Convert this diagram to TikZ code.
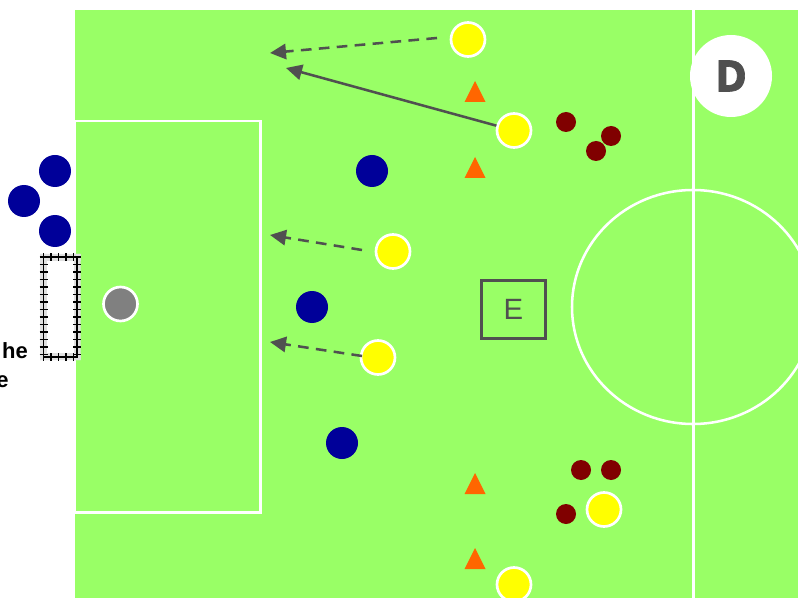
\documentclass[tikz,border=0pt]{standalone}
\usepackage{fontspec}
\setmainfont{Liberation Sans}
\newfontfamily\heavy[BoldFeatures={FakeBold=1.5,FakeStretch=0.88}]{DejaVu Sans}
\usetikzlibrary{arrows.meta}
\definecolor{pitch}{HTML}{99FF66}
\definecolor{ink}{HTML}{505050}
\definecolor{navy1}{HTML}{000099}
\definecolor{maroon1}{HTML}{800000}
\definecolor{cone}{HTML}{FF6600}
\definecolor{yel}{HTML}{FFFF00}
\tikzset{
  x=0.75pt,y=-0.75pt,
  pitchline/.style={draw=white,line width=1.9pt},
  yplayer/.style={circle,fill=yel,draw=white,line width=2pt,minimum size=25.5pt,inner sep=0pt},
  gplayer/.style={circle,fill=gray,draw=white,line width=2pt,minimum size=25.5pt,inner sep=0pt},
  bplayer/.style={circle,fill=navy1,minimum size=24pt,inner sep=0pt},
  mplayer/.style={circle,fill=maroon1,minimum size=15pt,inner sep=0pt},
  conemark/.style={fill=cone},
  mover/.style={draw=ink,line width=1.9pt,-{Triangle[length=12pt,width=11.5pt]}},
  dashmover/.style={mover,dash pattern=on 8pt off 5.5pt},
  bold/.style={font=\bfseries\fontsize{16.5}{18}\selectfont,inner sep=0pt},
  nettick/.style={black,line width=1.1pt},
}
\begin{document}
\begin{tikzpicture}
\useasboundingbox (0,0) rectangle (798,598);
\fill[white] (0,0) rectangle (798,598);
\fill[pitch] (75,10) rectangle (798,598);
\begin{scope}
\clip (0,0) rectangle (798,598);
\draw[pitchline] (75,121) rectangle (260.5,512.5);
\draw[pitchline,line width=2.3pt] (693.3,10) -- (693.3,598);
\draw[pitchline] (693,307) ellipse [x radius=90.75pt,y radius=87.75pt];
\end{scope}
% goal
\fill[white] (44,257) rectangle (75,357);
\fill[black!12] (40,254) rectangle (47,360) (73.5,254) rectangle (80.5,360);
\fill[black!12] (40,254) rectangle (80.5,261) (40,353) rectangle (80.5,360);
\fill[white] (47,261) rectangle (73.5,353);
\foreach \y in {257,264.5,...,358} {
  \draw[nettick] (39.5,\y) -- (47.5,\y);
  \draw[nettick] (73,\y) -- (81,\y);
}
\foreach \x in {43.5,51,...,78} {
  \draw[nettick] (\x,253.5) -- (\x,261);
  \draw[nettick] (\x,353) -- (\x,360.5);
}
\draw[black,line width=1.4pt] (43.5,257) rectangle (77,357);
% text
\node[bold,anchor=base east] (t1) at (28,358) {he};
\node[bold,anchor=base east] (t2) at (9,387) {e};
% D badge
\node[circle,fill=white,minimum size=61.5pt,inner sep=0pt,text=ink,font=\heavy\bfseries\fontsize{32}{32}\selectfont] (d) at (731,76) {D};
% E box
\node[draw=ink,line width=2.2pt,minimum width=48pt,minimum height=43.5pt,inner sep=0pt,text=ink,font=\fontsize{22}{24}\selectfont] (e) at (513.5,309.5) {E};
% cones
\foreach \x/\y in {475/91.5,475/167.5,475/483.5,475/558.5}
  \fill[conemark] (\x-10.5,\y+10.5) -- (\x,\y-10.5) -- (\x+10.5,\y+10.5) -- cycle;
% blue
\foreach \n/\x/\y in {b1/55/171,b2/24/201,b3/55/231,b4/372/171,b5/312/307,b6/342/443}
  \node[bplayer] (\n) at (\x,\y) {};
% maroon
\foreach \n/\x/\y in {m1/566/122,m2/611/136,m3/596/151,m4/581/470,m5/611/470,m6/566/514}
  \node[mplayer] (\n) at (\x,\y) {};
% yellow
\foreach \n/\x/\y in {y1/468/39.5,y2/514/130.5,y3/393/251.5,y4/378/357.5,y5/604/509.5,y6/514/584.5}
  \node[yplayer] (\n) at (\x,\y) {};
\node[gplayer] (gk) at (120.5,304) {};
% runs
\coordinate (a1) at (270,53);
\coordinate (a2) at (286,68);
\coordinate (a3) at (270,235);
\coordinate (a4) at (270,342);
\coordinate (s1) at (437,38);
\coordinate (s3) at (362,250);
\coordinate (s4) at (362,356);
\draw[dashmover] (s1) -- (a1);
\draw[mover] (y2) -- (a2);
\draw[dashmover] (s3) -- (a3);
\draw[dashmover] (s4) -- (a4);
\end{tikzpicture}
\end{document}
